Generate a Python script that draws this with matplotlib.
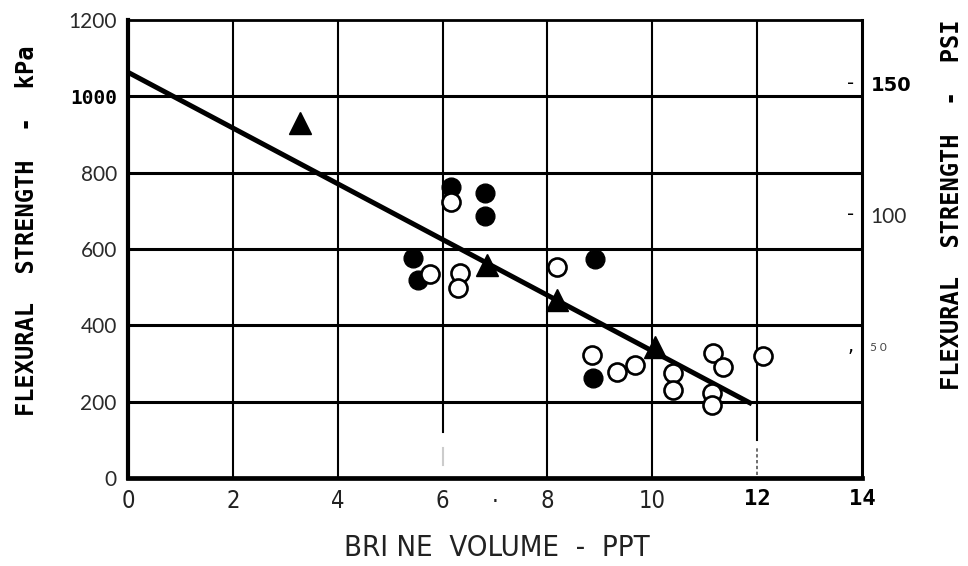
import matplotlib
matplotlib.use("Agg")
import matplotlib.pyplot as plt
import matplotlib.transforms as mtransforms

KPA_PER_PSI = 6.894757

# Axis ticks
brine_ticks = [0, 2, 4, 6, 8, 10, 12, 14]
brine_tick_labels = ["0", "2", "4", "6", "8", "10", "12", "14"]
kpa_ticks = [0, 200, 400, 600, 800, 1000, 1200]
kpa_tick_labels = ["0", "200", "400", "600", "800", "1000", "1200"]
psi_ticks = [50, 100, 150]
psi_tick_labels = ["5 0", "100", "150"]

# Measurements: brine volume (ppt) vs flexural strength (kPa)
triangle_brine = [3.28, 6.85, 8.18, 10.05]
triangle_kpa = [930, 558, 466, 343]

filled_brine = [6.16, 6.81, 6.81, 5.44, 5.53, 8.91, 8.87]
filled_kpa = [762, 747, 686, 576, 519, 574, 262]

open_brine = [6.16, 5.76, 6.33, 6.29, 8.18, 8.85, 9.33, 9.67,
              10.39, 10.39, 11.16, 11.35, 11.14, 11.14, 12.11]
open_kpa = [723, 534, 537, 498, 553, 322, 278, 296,
            275, 231, 327, 291, 223, 191, 320]

# Regression line end points
fit_brine = [0.0, 11.9]
fit_kpa = [1063, 194]

NARROW = dict(fontfamily="DejaVu Sans", fontstretch="condensed", fontweight="light")

fig = plt.figure(figsize=(9.68, 5.66), dpi=100)
ax = fig.add_axes([0.1322, 0.1555, 0.7583, 0.8092])
ax.set_xlim(0, 14)
ax.set_ylim(0, 1200)

# grid
for y in kpa_ticks[1:-1]:
    ax.axhline(y, color="black", lw=2.2, zorder=1)
for x in brine_ticks[1:-1]:
    if x == 6:
        ax.axvline(x, ymin=0.10, ymax=1, color="black", lw=1.5, zorder=1)
        ax.axvline(x, ymin=0.028, ymax=0.065, color="#cccccc", lw=1.5, zorder=1)
    elif x == 12:
        ax.axvline(x, ymin=0.083, ymax=1, color="black", lw=1.5, zorder=1)
        ax.axvline(x, ymin=0.007, ymax=0.068, color="#555555", lw=1.2,
                   ls=(0, (2, 1.5)), zorder=1)
    else:
        ax.axvline(x, color="black", lw=1.5, zorder=1)

ax.plot(fit_brine, fit_kpa, color="black", lw=3.6, solid_capstyle="butt", zorder=3)
ax.plot(triangle_brine, triangle_kpa, ls="none", marker="^", ms=16,
        color="black", zorder=4)
ax.plot(filled_brine, filled_kpa, ls="none", marker="o", ms=13.5,
        color="black", zorder=4)
ax.plot(open_brine, open_kpa, ls="none", marker="o", ms=13,
        mfc="white", mec="black", mew=1.9, zorder=4)

# spines
for side, w in (("left", 3.0), ("bottom", 3.4), ("top", 2.0), ("right", 2.2)):
    ax.spines[side].set_linewidth(w)
    ax.spines[side].set_color("black")

ax.set_xticks(brine_ticks)
ax.set_xticklabels(brine_tick_labels)
ax.set_yticks(kpa_ticks)
ax.set_yticklabels(kpa_tick_labels)
ax.tick_params(axis="both", length=0)
ax.tick_params(axis="x", pad=8)
ax.tick_params(axis="y", pad=8)

for lab in ax.get_yticklabels():
    if lab.get_text() == "1000":
        lab.set_fontfamily("DejaVu Sans Mono")
        lab.set_fontweight("bold")
        lab.set_fontsize(14)
        lab.set_color("black")
    else:
        lab.set_fontfamily("Lato")
        lab.set_fontweight("normal")
        lab.set_fontsize(15)
        lab.set_color("#2a2a2a")

for lab in ax.get_xticklabels():
    if lab.get_text() in ("12", "14"):
        lab.set_fontfamily("DejaVu Sans Mono")
        lab.set_fontweight("bold")
        lab.set_fontsize(16)
        lab.set_color("black")
    else:
        lab.set_fontfamily(NARROW["fontfamily"])
        lab.set_fontstretch(NARROW["fontstretch"])
        lab.set_fontweight(NARROW["fontweight"])
        lab.set_fontsize(17)
        lab.set_color("#222222")

# stray dot between 6 and 8 on the brine scale
ax.text(7.0, -0.012, ".", transform=ax.get_xaxis_transform(), ha="center",
        va="top", fontsize=17, color="#222222", **NARROW)

# right-hand PSI scale
ax2 = ax.twinx()
ax2.set_ylim(0, 1200 / KPA_PER_PSI)
ax2.set_yticks(psi_ticks)
ax2.set_yticklabels(psi_tick_labels)
ax2.tick_params(axis="y", length=0, pad=6)
for sp in ax2.spines.values():
    sp.set_visible(False)
for lab in ax2.get_yticklabels():
    t = lab.get_text()
    if t == "150":
        lab.set_fontfamily("DejaVu Sans")
        lab.set_fontweight("bold")
        lab.set_fontsize(14)
    elif t == "100":
        lab.set_fontfamily("Lato")
        lab.set_fontweight("normal")
        lab.set_fontsize(15)
        lab.set_color("#2a2a2a")
    else:
        lab.set_fontfamily("Lato")
        lab.set_fontsize(8.5)
        lab.set_color("#444444")

blend = mtransforms.blended_transform_factory(ax2.transAxes, ax2.transData)
for v, mark in zip(psi_ticks, [",", "-", "-"]):
    ax2.text(0.985, v, mark, transform=blend, ha="center", va="center",
             fontsize=14, fontfamily="DejaVu Sans", color="black")

# axis titles
fig.text(0.028, 0.592, "FLEXURAL  STRENGTH  -  kPa", rotation=90, ha="center",
         va="center", fontsize=17, fontfamily="DejaVu Sans Mono", fontweight="bold")
fig.text(0.983, 0.638, "FLEXURAL  STRENGTH  -  PSI", rotation=90, ha="center",
         va="center", fontsize=17, fontfamily="DejaVu Sans Mono", fontweight="bold")
fig.text(0.513, 0.032, "BRI NE  VOLUME  -  PPT", ha="center", va="center",
         fontsize=21, color="#222222", **NARROW)

fig.savefig("out.png", dpi=100)
